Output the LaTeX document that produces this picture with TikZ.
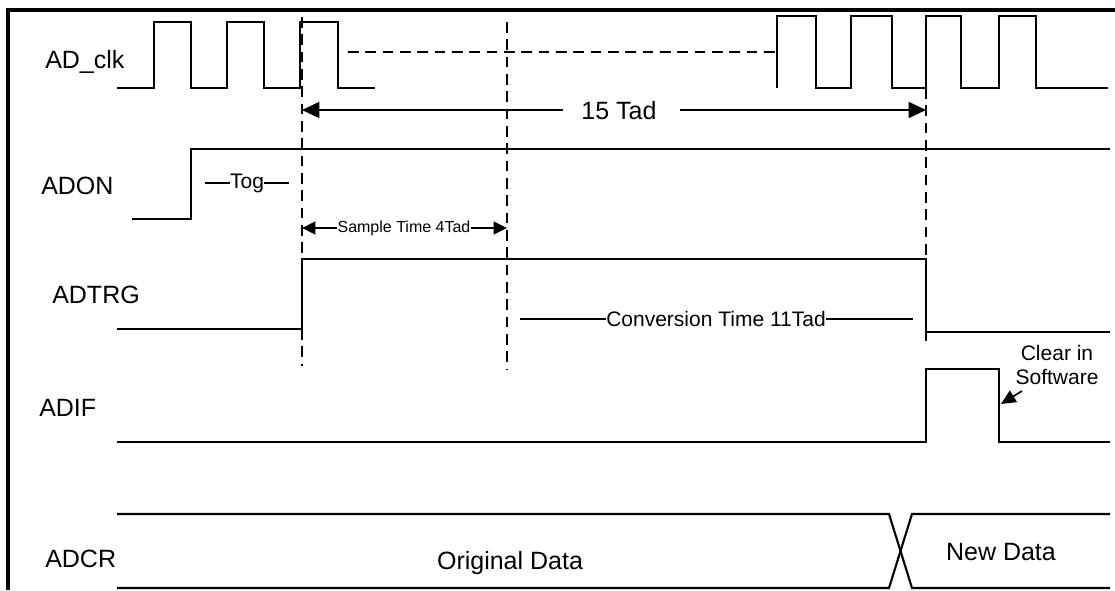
\documentclass[tikz,border=0pt]{standalone}
\usepackage{fontspec}
\setmainfont{Liberation Sans}
\usetikzlibrary{arrows.meta}
\begin{document}
\begin{tikzpicture}[x=0.75pt,y=-0.75pt,
  sig/.style={line width=1.6pt, line join=miter},
  frameline/.style={line width=2.4pt},
  dashline/.style={line width=1.4pt, dash pattern=on 8pt off 5pt},
  biglabel/.style={inner sep=0pt, font=\fontsize{18.75}{22}\selectfont},
  midlabel/.style={inner sep=0pt, font=\fontsize{15.75}{18}\selectfont},
  smalllabel/.style={inner sep=0pt, font=\fontsize{12}{14}\selectfont},
  bigarrow/.style={line width=1.3pt, -{Triangle[length=13pt,width=12pt]}},
  smallarrow/.style={line width=1.2pt, -{Triangle[length=10pt,width=9.5pt]}},
  thinline/.style={line width=1.2pt}]
\useasboundingbox (0,0) rectangle (1115,590);
% frame
\draw[frameline] (8,590) -- (8,10) -- (1115,10);
% labels
\node[biglabel, anchor=base west] (lclk) at (45,68) {AD\_clk};
\node[biglabel, anchor=base west] (ladon) at (41,194) {ADON};
\node[biglabel, anchor=base west] (ltrg) at (52,303) {ADTRG};
\node[biglabel, anchor=base west] (ladif) at (39,416) {ADIF};
\node[biglabel, anchor=base west] (ladcr) at (45,567) {ADCR};
% AD_clk
\draw[sig] (117,88) -- (154,88) -- (154,22) -- (191,22) -- (191,88) -- (227,88) -- (227,22) -- (264,22) -- (264,88) -- (300,88) -- (300,22) -- (338,22) -- (338,88) -- (375,88);
\draw[dashline] (348,52) -- (777,52);
\draw[sig] (777,88) -- (777,16) -- (816,16) -- (816,88) -- (851,88) -- (851,16) -- (892,16) -- (892,88) -- (926,88) -- (926,16) -- (961,16) -- (961,88) -- (999,88) -- (999,16) -- (1036,16) -- (1036,88) -- (1108,88);
% dashed time markers
\coordinate (m1top) at (302,17);
\coordinate (m1bot) at (302,366);
\coordinate (m2top) at (507,22);
\coordinate (m2bot) at (507,370);
\coordinate (m3top) at (926,88);
\coordinate (m3bot) at (926,342);
\draw[dashline] (m1top) -- (m1bot);
\draw[dashline] (m2top) -- (m2bot);
\draw[dashline] (m3top) -- (m3bot);
% 15 Tad
\node[biglabel] (t15) at (619,111) {15 Tad};
\coordinate (t15l) at (563,110);
\coordinate (t15r) at (680,110);
\draw[bigarrow] (t15l) -- (302,110);
\draw[bigarrow] (t15r) -- (926,110);
% ADON
\draw[sig] (132,219) -- (191,219) -- (191,149) -- (1110,149);
\node[midlabel] (tog) at (247,183) {Tog};
\draw[thinline] (205,183) -- (tog.west);
\draw[thinline] (tog.east) -- (289,183);
% Sample time
\node[smalllabel] (st) at (404,228) {Sample Time 4Tad};
\draw[smallarrow] (st.west) -- (302,228);
\draw[smallarrow] (st.east) -- (507,228);
% ADTRG
\draw[sig] (117,329) -- (302,329) -- (302,259) -- (926,259) -- (926,332) -- (1110,332);
\node[midlabel] (conv) at (716,319) {Conversion Time 11Tad};
\draw[thinline] (520,319) -- (conv.west);
\draw[thinline] (conv.east) -- (913,319);
% ADIF
\draw[sig] (117,442) -- (926,442) -- (926,369) -- (999,369) -- (999,442) -- (1110,442);
\node[midlabel, align=center] (clr) at (1057,365) {Clear in\\Software};
\coordinate (clrtail) at (1022,391);
\draw[thinline, -{Triangle[length=11pt,width=10pt]}] (clrtail) -- (1001,404);
% ADCR
\draw[sig] (117,514) -- (889,514) -- (912,588) -- (1110,588);
\draw[sig] (117,588) -- (889,588) -- (912,514) -- (1110,514);
\node[biglabel] (orig) at (510,563) {Original Data};
\node[biglabel] (newd) at (1001,552) {New Data};
\end{tikzpicture}
\end{document}
